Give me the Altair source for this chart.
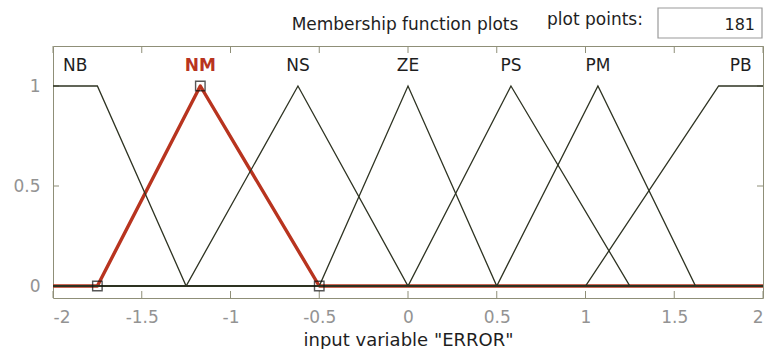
import altair as alt
import pandas as pd

# Membership functions of the input variable "ERROR"
mf_names = ["NB", "NM", "NS", "ZE", "PS", "PM", "PB"]
mf_types = ["trapmf", "trimf", "trimf", "trimf", "trimf", "trimf", "trapmf"]
mf_params = [
    [-2.0, -2.0, -1.75, -1.25],
    [-1.75, -1.17, -0.5],
    [-1.25, -0.62, 0.0],
    [-0.5, 0.0, 0.5],
    [0.0, 0.58, 1.25],
    [0.5, 1.07, 1.62],
    [1.0, 1.75, 2.0, 2.0],
]
selected_mf = "NM"
x_range = [-2.0, 2.0]
y_range = [-0.06, 1.2]
x_ticks = [-2, -1.5, -1, -0.5, 0, 0.5, 1, 1.5, 2]
y_ticks = [0, 0.5, 1]
label_height = 1.1
plot_points = 181

FONT = "DejaVu Sans"
LINE = "#2e3322"
RED = "#b8341f"
FRAME = "#8f8f78"
TICK_LABEL = "#939393"


def vertices(kind, p):
    lo, hi = x_range
    if kind == "trimf":
        a, b, c = p
        return [(lo, 0), (a, 0), (b, 1), (c, 0), (hi, 0)]
    a, b, c, d = p
    pts = [(lo, 1)] if b <= lo else [(lo, 0), (a, 0), (b, 1)]
    pts += [(hi, 1)] if c >= hi else [(c, 1), (d, 0), (hi, 0)]
    return pts


rows, labels = [], []
for name, kind, p in zip(mf_names, mf_types, mf_params):
    for i, (x, y) in enumerate(vertices(kind, p)):
        rows.append({"name": name, "i": i, "x": x, "y": y})
    centre = p[1] if kind == "trimf" else (p[1] + p[2]) / 2
    labels.append({"name": name, "x": centre, "y": label_height})

curves = pd.DataFrame(rows)
label_df = pd.DataFrame(labels)
sel_idx = mf_names.index(selected_mf)
sel_pts = pd.DataFrame(
    [{"x": x, "y": y} for x, y in vertices(mf_types[sel_idx], mf_params[sel_idx])
     if x_range[0] < x < x_range[1]]
)

xs = alt.Scale(domain=x_range, nice=False, zero=False)
ys = alt.Scale(domain=y_range, nice=False, zero=False)

x_axis = alt.Axis(
    values=x_ticks, ticks=False, domain=False, grid=False,
    labelExpr="'' + datum.value", labelFont=FONT, labelFontSize=17,
    labelColor=TICK_LABEL, labelPadding=11,
    title='input variable "ERROR"', titleFont=FONT, titleFontSize=18,
    titleFontWeight="normal", titleColor="#1e1e1e", titlePadding=6,
)
y_axis = alt.Axis(
    values=y_ticks, ticks=False, domain=False, grid=False,
    labelExpr="'' + datum.value", labelFont=FONT, labelFontSize=17,
    labelColor=TICK_LABEL, labelPadding=13, title=None,
)


def X(field):
    return alt.X(field, scale=xs, axis=x_axis)


def Y(field):
    return alt.Y(field, scale=ys, axis=y_axis)


# selected function drawn thick and red, the rest thin on top of it
selected = alt.Chart(curves[curves["name"] == selected_mf]).mark_line(
    color=RED, strokeWidth=3.4, strokeJoin="round"
).encode(x=X("x:Q"), y=Y("y:Q"), order="i:Q")
others = alt.Chart(curves[curves["name"] != selected_mf]).mark_line(
    color=LINE, strokeWidth=1.3
).encode(x=X("x:Q"), y=Y("y:Q"), detail="name:N", order="i:Q")
markers = alt.Chart(sel_pts).mark_square(
    filled=False, color="#111111", size=90, strokeWidth=1.4
).encode(x=X("x:Q"), y=Y("y:Q"))
names_plain = alt.Chart(label_df[label_df["name"] != selected_mf]).mark_text(
    font=FONT, fontSize=17, baseline="middle", color="#1e1e1e"
).encode(x=X("x:Q"), y=Y("y:Q"), text="name:N")
names_selected = alt.Chart(label_df[label_df["name"] == selected_mf]).mark_text(
    font=FONT, fontSize=17, baseline="middle", color=RED, fontWeight="bold"
).encode(x=X("x:Q"), y=Y("y:Q"), text="name:N")

# inward tick marks on all four sides of the box
xt = pd.DataFrame({"x": x_ticks})
yt = pd.DataFrame({"y": y_ticks})
tick_style = dict(color=FRAME, strokeWidth=1)
ticks_bottom = alt.Chart(xt).mark_rule(**tick_style).encode(
    x=X("x:Q"), y=alt.value(252), y2=alt.value(245))
ticks_top = alt.Chart(xt).mark_rule(**tick_style).encode(
    x=X("x:Q"), y=alt.value(0), y2=alt.value(7))
ticks_left = alt.Chart(yt).mark_rule(**tick_style).encode(
    y=Y("y:Q"), x=alt.value(0), x2=alt.value(6))
ticks_right = alt.Chart(yt).mark_rule(**tick_style).encode(
    y=Y("y:Q"), x=alt.value(710), x2=alt.value(704))

# header: title, "plot points:" caption and its value box
one = pd.DataFrame({"k": [0]})
header_title = alt.Chart(one).mark_text(
    text="Membership function plots", font=FONT, fontSize=17, color="#1e1e1e",
    align="center", baseline="alphabetic",
).encode(x=alt.value(352), y=alt.value(-16))
header_caption = alt.Chart(one).mark_text(
    text="plot points:", font=FONT, fontSize=17, color="#1e1e1e",
    align="center", baseline="alphabetic",
).encode(x=alt.value(542), y=alt.value(-21))
header_box = alt.Chart(one).mark_rect(
    fill="white", stroke="#9a9a9a", strokeWidth=1.2
).encode(x=alt.value(605), x2=alt.value(709), y=alt.value(-38), y2=alt.value(-8))
header_value = alt.Chart(one).mark_text(
    text=str(plot_points), font=FONT, fontSize=16, color="#1e1e1e",
    align="right", baseline="alphabetic",
).encode(x=alt.value(702), y=alt.value(-16))

chart = alt.layer(
    ticks_bottom, ticks_top, ticks_left, ticks_right,
    selected, others, markers, names_plain, names_selected,
    header_box, header_title, header_caption, header_value,
).properties(
    width=710,
    height=252,
    autosize=alt.AutoSizeParams(type="none"),
    padding={"left": 53, "top": 46, "right": 3, "bottom": 51},
    background="white",
).configure_view(stroke=FRAME, strokeWidth=1)

chart.save("out.html", embed_options={"renderer": "svg", "actions": False})
